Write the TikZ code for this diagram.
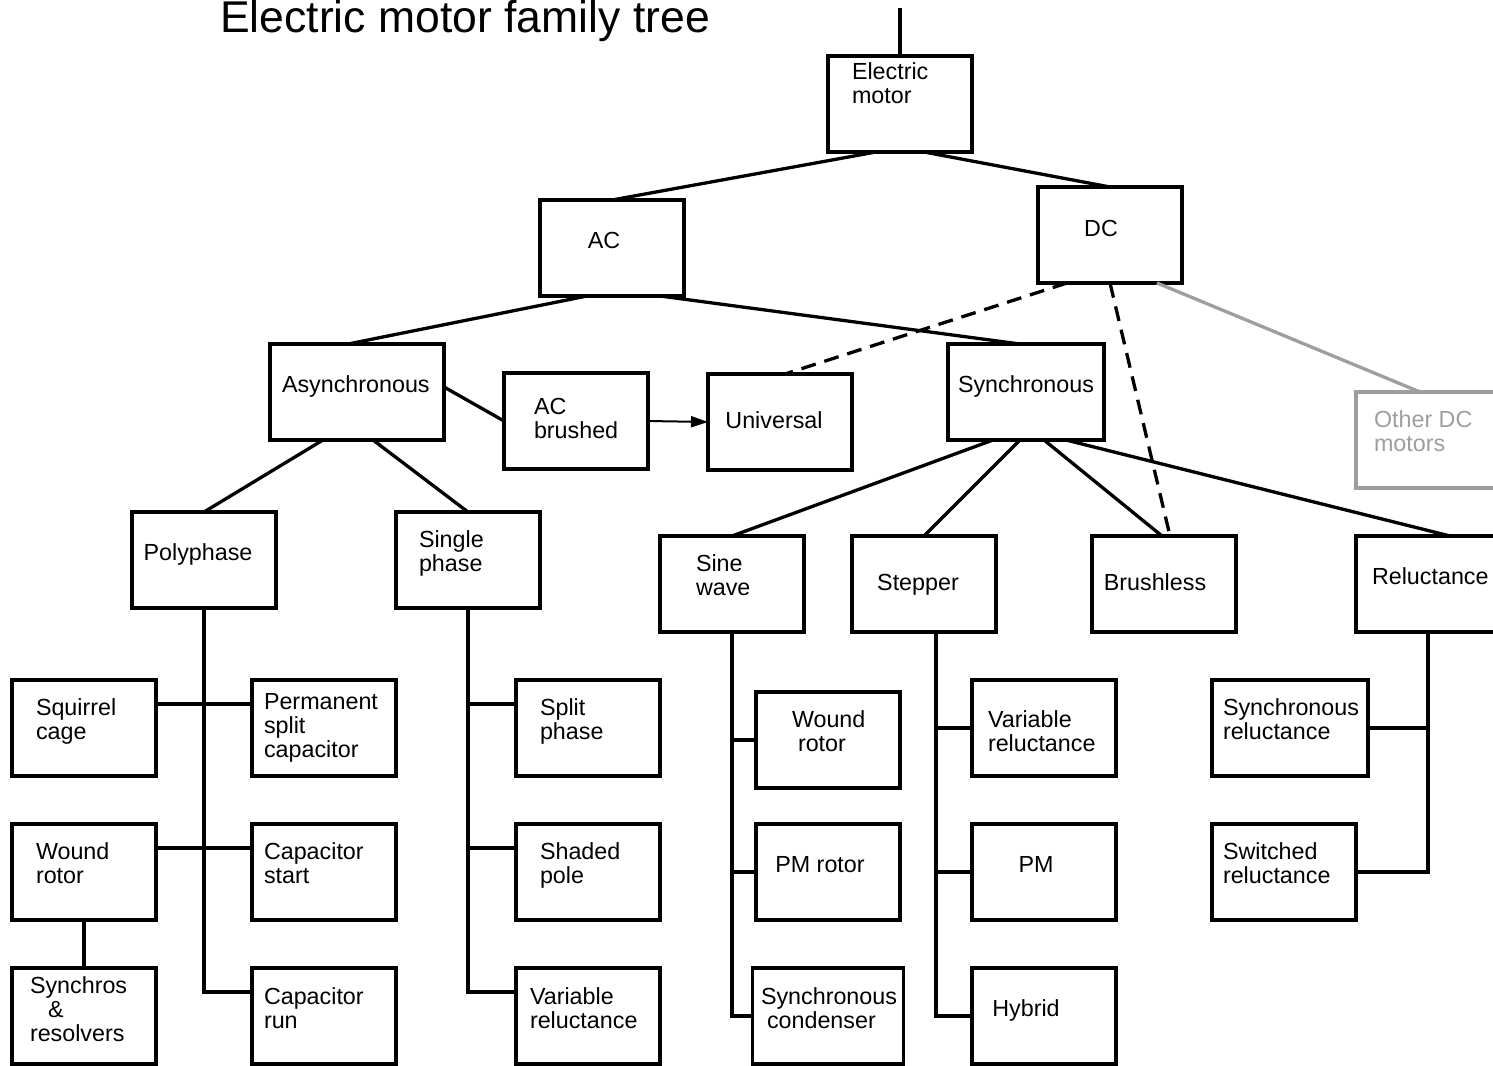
\documentclass[tikz,border=0pt]{standalone}
\usepackage{fontspec}
\setmainfont{Liberation Sans}
\usetikzlibrary{arrows.meta}
\definecolor{otherg}{RGB}{158,158,158}
\begin{document}
\begin{tikzpicture}[x=1pt,y=-1pt,
  box/.style={draw, line width=3.8pt, minimum width=144pt, minimum height=96pt, inner sep=0pt, outer sep=0pt},
  lbl/.style={inner sep=0pt, outer sep=0pt, font=\fontsize{23.3}{24}\selectfont, align=left},
  conn/.style={line width=3.3pt},
  dashedconn/.style={line width=3.3pt, dash pattern=on 15pt off 9pt},
  arrowconn/.style={line width=2pt, -{Triangle[length=17pt,width=11pt]}}
  ]
\useasboundingbox (0,0) rectangle (1493,1065);
\clip (0,0) rectangle (1493,1065);

% title
\node[anchor=base west, inner sep=0pt, font=\fontsize{44.5}{48}\selectfont] (title) at (220,33) {Electric motor family tree};

% boxes
\node[box] (em) at (900,104) {};
\node[box] (ac) at (612,248) {};
\node[box] (dc) at (1110,235) {};
\node[box, minimum width=174pt] (async) at (357,392) {};
\node[box] (acb) at (576,421) {};
\node[box] (univ) at (780,422) {};
\node[box, minimum width=156pt] (sync) at (1026,392) {};
\node[box, draw=otherg] (odc) at (1428,440) {};
\node[box] (poly) at (204,560) {};
\node[box] (single) at (468,560) {};
\node[box] (sine) at (732,584) {};
\node[box] (stepper) at (924,584) {};
\node[box] (brushless) at (1164,584) {};
\node[box] (reluct) at (1428,584) {};
\node[box] (sq) at (84,728) {};
\node[box] (psc) at (324,728) {};
\node[box] (wr1) at (84,872) {};
\node[box] (cs) at (324,872) {};
\node[box] (syn) at (84,1016) {};
\node[box] (cr) at (324,1016) {};
\node[box] (sp) at (588,728) {};
\node[box] (shp) at (588,872) {};
\node[box] (vr1) at (588,1016) {};
\node[box] (wr2) at (828,740) {};
\node[box] (pmr) at (828,872) {};
\node[box, minimum width=151pt] (sc) at (828,1016) {};
\node[box] (vr2) at (1044,728) {};
\node[box] (pm) at (1044,872) {};
\node[box] (hy) at (1044,1016) {};
\node[box, minimum width=156pt] (sr) at (1290,728) {};
\node[box] (swr) at (1284,872) {};

% texts
\node[lbl, anchor=north west] (em-t) at (852,63) {Electric\\motor};
\node[lbl, anchor=base] (ac-t) at (604,248) {AC};
\node[lbl, anchor=base] (dc-t) at (1101,236) {DC};
\node[lbl, anchor=base west] (async-t) at (282,392) {Asynchronous};
\node[lbl, anchor=north west] (acb-t) at (534,398) {AC\\brushed};
\node[lbl, anchor=base] (univ-t) at (774,428) {Universal};
\node[lbl, anchor=base] (sync-t) at (1026,392) {Synchronous};
\node[lbl, anchor=north west, text=otherg] (odc-t) at (1374,411) {Other DC\\motors};
\node[lbl, anchor=base] (poly-t) at (198,560) {Polyphase};
\node[lbl, anchor=north west] (single-t) at (419,531) {Single\\phase};
\node[lbl, anchor=north west] (sine-t) at (696,555) {Sine\\wave};
\node[lbl, anchor=base] (stepper-t) at (918,590) {Stepper};
\node[lbl, anchor=base] (brushless-t) at (1155,590) {Brushless};
\node[lbl, anchor=base west] (reluct-t) at (1372,584) {Reluctance};
\node[lbl, anchor=north west] (sq-t) at (36,699) {Squirrel\\cage};
\node[lbl, anchor=north west] (psc-t) at (264,693) {Permanent\\split\\capacitor};
\node[lbl, anchor=north west] (wr1-t) at (36,843) {Wound\\rotor};
\node[lbl, anchor=north west] (cs-t) at (264,843) {Capacitor\\start};
\node[lbl, anchor=north west] (syn-t) at (30,977) {Synchros\\\hspace*{18pt}\&\\resolvers};
\node[lbl, anchor=north west] (cr-t) at (264,988) {Capacitor\\run};
\node[lbl, anchor=north west] (sp-t) at (540,699) {Split\\phase};
\node[lbl, anchor=north west] (shp-t) at (540,843) {Shaded\\pole};
\node[lbl, anchor=north west] (vr1-t) at (530,988) {Variable\\reluctance};
\node[lbl, anchor=north west] (wr2-t) at (792,711) {Wound\\\hspace*{6pt}rotor};
\node[lbl, anchor=base] (pmr-t) at (820,872) {PM rotor};
\node[lbl, anchor=north west] (sc-t) at (761,988) {Synchronous\\\hspace*{6pt}condenser};
\node[lbl, anchor=north west] (vr2-t) at (988,711) {Variable\\reluctance};
\node[lbl, anchor=base] (pm-t) at (1036,872) {PM};
\node[lbl, anchor=base] (hy-t) at (1026,1016) {Hybrid};
\node[lbl, anchor=north west] (sr-t) at (1223,699) {Synchronous\\reluctance};
\node[lbl, anchor=north west] (swr-t) at (1223,843) {Switched\\reluctance};

% connectors
\coordinate (top) at (900,8);
\draw[conn] (top) -- (em.north);
\draw[conn] ([xshift=-24pt]em.south) -- (ac.north);
\draw[conn] ([xshift=24pt]em.south) -- (dc.north);
\draw[conn] ([xshift=-25pt]ac.south) -- ([xshift=-9pt]async.north);
\draw[conn] ([xshift=48pt]ac.south) -- ([xshift=-6pt]sync.north);
\draw[conn] ([yshift=5pt]async.east) -- (acb.west);
\draw[arrowconn] (acb.east) -- (univ.west);
\draw[dashedconn] ([xshift=-43pt]dc.south) -- ([xshift=5pt]univ.north);
\draw[dashedconn] (dc.south) -- ([xshift=6pt]brushless.north);
\draw[conn, otherg] ([xshift=47pt]dc.south) -- ([xshift=-8pt]odc.north);
\draw[conn] ([xshift=-34pt]async.south) -- (poly.north);
\draw[conn] ([xshift=16pt]async.south) -- (single.north);
\draw[conn] ([xshift=-33pt]sync.south) -- (sine.north);
\draw[conn] ([xshift=-6pt]sync.south) -- (stepper.north);
\draw[conn] ([xshift=18pt]sync.south) -- ([xshift=-2pt]brushless.north);
\draw[conn] ([xshift=40pt]sync.south) -- ([xshift=22pt]reluct.north);

% polyphase
\draw[conn] (poly.south) |- ([yshift=24pt]cr.west);
\draw[conn] ([yshift=24pt]sq.east) -- ([yshift=24pt]psc.west);
\draw[conn] ([yshift=24pt]wr1.east) -- ([yshift=24pt]cs.west);
\draw[conn] (wr1.south) -- (syn.north);
% single phase
\draw[conn] (single.south) |- ([yshift=24pt]vr1.west);
\draw[conn] ([yshift=24pt]sp.west) -| (single.south);
\draw[conn] ([yshift=24pt]shp.west) -| (single.south);
% sine wave
\draw[conn] (sine.south) |- (sc.west);
\draw[conn] (wr2.west) -| (sine.south);
\draw[conn] (pmr.west) -| (sine.south);
% stepper
\draw[conn] ([xshift=12pt]stepper.south) |- (hy.west);
\draw[conn] (vr2.west) -| ([xshift=12pt]stepper.south);
\draw[conn] (pm.west) -| ([xshift=12pt]stepper.south);
% reluctance
\draw[conn] (reluct.south) |- (swr.east);
\draw[conn] (sr.east) -| (reluct.south);
\end{tikzpicture}
\end{document}
